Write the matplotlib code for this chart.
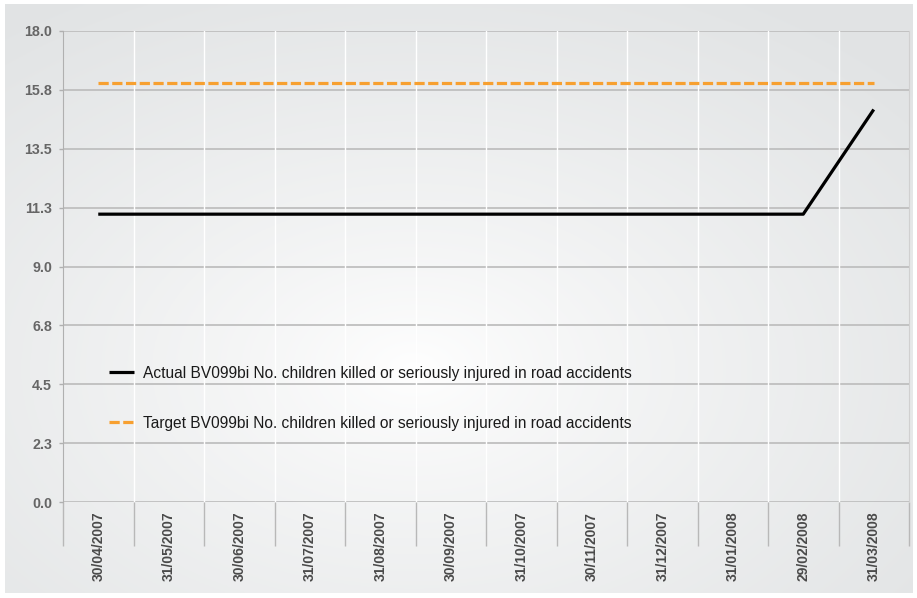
import numpy as np
import matplotlib.pyplot as plt

plt.rcParams['font.family'] = ['Liberation Sans', 'DejaVu Sans']

# --- Data ---
months = ["30/04/2007", "31/05/2007", "30/06/2007", "31/07/2007", "31/08/2007",
          "30/09/2007", "31/10/2007", "30/11/2007", "31/12/2007", "31/01/2008",
          "29/02/2008", "31/03/2008"]
actual = [11, 11, 11, 11, 11, 11, 11, 11, 11, 11, 11, 15]
target = [16, 16, 16, 16, 16, 16, 16, 16, 16, 16, 16, 16]
y_ticks = [0.0, 2.25, 4.5, 6.75, 9.0, 11.25, 13.5, 15.75, 18.0]
y_labels = ["0.0", "2.3", "4.5", "6.8", "9.0", "11.3", "13.5", "15.8", "18.0"]

actual_label = "Actual BV099bi No. children killed or seriously injured in road accidents"
target_label = "Target BV099bi No. children killed or seriously injured in road accidents"

W, H = 917, 598
fig = plt.figure(figsize=(W / 100, H / 100), dpi=100, facecolor="white")

# --- soft radial background ---
bg = fig.add_axes([5 / W, 5 / H, (W - 10) / W, (H - 9) / H])
bg.set_axis_off()
gx, gy = np.meshgrid(np.linspace(0, 1, 400), np.linspace(0, 1, 300))
r = np.sqrt(((gx - 0.45) / 0.72) ** 2 + ((gy - 0.62) / 0.72) ** 2)
t = np.clip(r, 0, 1) ** 0.8
edge = np.array([0.886, 0.894, 0.898])
img = (1 - t)[..., None] * np.ones(3) + t[..., None] * edge
bg.imshow(img, aspect="auto", extent=[0, 1, 0, 1], origin="upper")

# --- main plot ---
left, right, top, bottom = 63, 909, 31, 502
ax = fig.add_axes([left / W, 1 - bottom / H, (right - left) / W, (bottom - top) / H])
ax.set_facecolor("none")

x = np.arange(len(months))
ax.plot(x, actual, color="black", lw=2.3, solid_capstyle="butt",
        label=actual_label, zorder=4)
ax.plot(x, target, color="#f7a030", lw=2.3, linestyle=(0, (3.2, 1.1)),
        label=target_label, zorder=4)

ax.set_xlim(-0.5, len(months) - 0.5)
ax.set_ylim(0, 18)

# grid: grey horizontals, white verticals at category edges
for yv in y_ticks:
    ax.axhline(yv, color="#bfbfbf", lw=1.3, zorder=1)
for b in np.arange(0.5, len(months) - 0.5, 1):
    ax.axvline(b, color="white", lw=1.0, zorder=1)

ax.set_yticks(y_ticks)
ax.set_yticklabels(y_labels)
ax.set_xticks(x)
ax.set_xticklabels(months, rotation=90)
ax.set_xticks(np.arange(-0.5, len(months), 1), minor=True)

ax.tick_params(axis="y", length=3, width=1, color="#b0b0b0", pad=5,
               labelsize=10.3, labelcolor="#666666")
ax.tick_params(axis="x", which="major", length=0, pad=7,
               labelsize=10, labelcolor="#4a4a4a")
ax.tick_params(axis="x", which="minor", length=32, width=1, color="#b8b8b8")
for lbl in ax.get_xticklabels() + ax.get_yticklabels():
    lbl.set_fontweight("bold")

for side in ["top", "bottom"]:
    ax.spines[side].set_visible(False)
ax.spines["left"].set_color("#b0b0b0")
ax.spines["right"].set_color("#d0d0d0")

leg = ax.legend(loc="upper left", bbox_to_anchor=(0.054, 0.289), frameon=False,
                fontsize=11.2, handlelength=1.6, handletextpad=0.6,
                labelspacing=2.25, borderpad=0, borderaxespad=0)
for t_ in leg.get_texts():
    t_.set_color("#1a1a1a")

fig.savefig("out.png", dpi=100, facecolor="white")
